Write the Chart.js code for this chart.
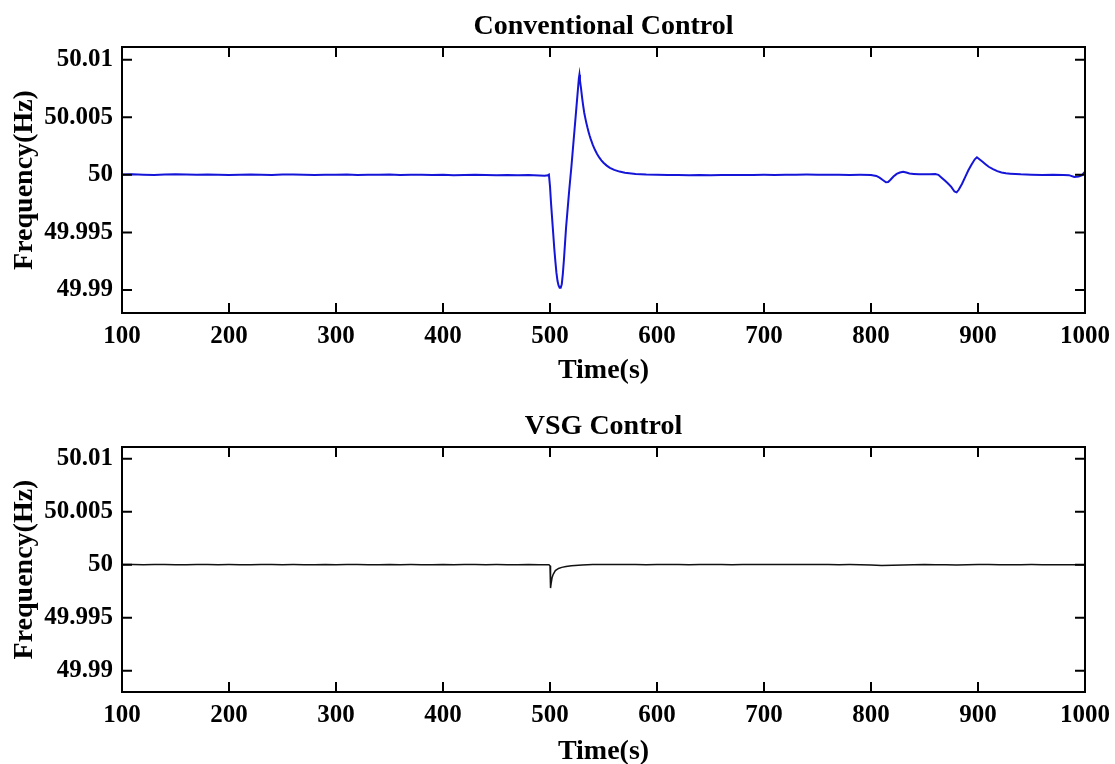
<!DOCTYPE html>
<html><head><meta charset="utf-8">
<script src="https://cdn.jsdelivr.net/npm/chart.js@4.4.1/dist/chart.umd.min.js"></script>
<style>
html,body{margin:0;padding:0;background:#fff;overflow:hidden;}
#wrap{position:relative;width:1115px;height:764px;background:#fff;}
canvas{position:absolute;left:0;}
</style></head><body>
<div id="wrap">
<canvas id="c1" width="1115" height="390" style="top:0"></canvas>
<canvas id="c2" width="1115" height="390" style="top:390px"></canvas>
</div>
<script>
// ---------- DATA ----------
const xTickValues = [100, 200, 300, 400, 500, 600, 700, 800, 900, 1000];
const yTickValues = [49.99, 49.995, 50, 50.005, 50.01];
const yTickLabels = ['49.99', '49.995', '50', '50.005', '50.01'];

// Conventional control (blue)
const convTime = [
  100,110,120,130,140,150,160,170,180,190,200,210,220,230,240,250,260,270,280,290,
  300,310,320,330,340,350,360,370,380,390,400,410,420,430,440,450,460,470,480,490,
  495,498,499,500,501,502,503,504,505,506,507,508,509,510,511,512,513,514,515,516,
  517,518,519,520,521,522,523,524,525,526,527,527.5,528,529,530,531,532,533,534,535,
  536,537,538,540,542,544,546,548,550,553,556,560,565,570,580,590,600,610,620,630,
  640,650,660,670,680,690,700,710,720,730,740,750,760,770,780,790,800,805,808,811,
  814,816,818,821,824,827,830,833,836,840,845,850,855,860,863,866,869,872,875,878,
  880,882,885,888,891,894,897,899,901,904,907,910,914,918,922,926,930,940,950,960,
  970,980,985,990,994,997,1000
];
const convFreq = [
  50.00002,50.00004,50.00001,49.99999,50.00003,50.00005,50.00002,50.00000,50.00003,50.00001,
  49.99998,50.00000,50.00002,50.00001,49.99999,50.00002,50.00003,50.00000,49.99998,50.00001,
  50.00000,50.00002,49.99999,50.00001,50.00000,50.00002,49.99999,50.00000,50.00001,49.99998,
  50.00000,49.99997,49.99999,50.00000,49.99998,49.99997,49.99999,49.99996,49.99998,49.99995,
  49.99993,49.99997,50.00002,49.99900,49.99750,49.99620,49.99490,49.99360,49.99250,49.99150,
  49.99080,49.99040,49.99020,49.99020,49.99050,49.99140,49.99260,49.99400,49.99540,49.99650,
  49.99760,49.99870,49.99970,50.00070,50.00180,50.00290,50.00400,50.00510,50.00620,50.00730,
  50.00840,50.00870,50.00820,50.00750,50.00670,50.00600,50.00539,50.00492,50.00449,50.00410,
  50.00375,50.00342,50.00312,50.00260,50.00217,50.00181,50.00151,50.00126,50.00105,50.00080,
  50.00061,50.00043,50.00028,50.00018,50.00007,50.00002,50.00000,49.99999,49.99998,49.99997,
  49.99998,49.99996,49.99998,49.99999,49.99998,49.99999,50.00000,49.99999,50.00000,50.00001,
  50.00002,50.00001,50.00000,50.00001,49.99999,50.00000,49.99999,49.99990,49.99975,49.99955,
  49.99935,49.99937,49.99955,49.99985,50.00008,50.00020,50.00027,50.00020,50.00012,50.00008,
  50.00004,50.00006,50.00004,50.00006,50.00000,49.99975,49.99950,49.99925,49.99895,49.99855,
  49.99848,49.99870,49.99920,49.99980,50.00040,50.00090,50.00135,50.00152,50.00138,50.00115,
  50.00092,50.00070,50.00050,50.00032,50.00020,50.00013,50.00010,50.00004,50.00001,49.99999,
  50.00000,49.99998,49.99997,49.99982,49.99985,49.99995,50.00028
];

// VSG control (black)
const vsgTime = [
  100,110,120,130,140,150,160,170,180,190,200,210,220,230,240,250,260,270,280,290,
  300,310,320,330,340,350,360,370,380,390,400,410,420,430,440,450,460,470,480,490,
  499,500,500.5,501,502,503,505,508,511,515,520,530,540,550,560,570,580,590,600,610,
  620,630,640,650,660,670,680,690,700,710,720,730,740,750,760,770,780,790,800,810,
  820,830,840,850,860,870,880,890,900,910,920,930,940,950,960,970,980,990,1000
];
const vsgFreq = [
  50.00001,50.00002,50.00000,50.00001,50.00002,50.00000,49.99999,50.00001,50.00002,50.00000,
  50.00001,50.00000,49.99999,50.00001,50.00002,50.00000,50.00001,50.00000,49.99999,50.00001,
  50.00000,50.00001,50.00002,50.00000,49.99999,50.00001,50.00000,50.00001,50.00000,49.99999,
  50.00001,50.00000,50.00001,50.00002,50.00000,50.00001,50.00000,49.99999,50.00001,50.00000,
  50.00000,49.99990,49.99780,49.99820,49.99880,49.99910,49.99945,49.99965,49.99975,49.99983,
  49.99990,49.99997,50.00001,50.00002,50.00001,50.00002,50.00001,50.00000,50.00001,50.00002,
  50.00001,50.00000,50.00001,50.00002,50.00001,50.00000,50.00001,50.00002,50.00001,50.00002,
  50.00001,50.00002,50.00003,50.00002,50.00001,50.00000,50.00001,50.00000,49.99998,49.99993,
  49.99996,49.99998,50.00000,50.00001,49.99999,50.00000,49.99997,50.00000,50.00002,50.00001,
  50.00000,49.99999,50.00000,50.00001,50.00000,49.99999,50.00000,49.99999,50.00000
];

// ---------- CHARTS ----------
const FONT = "'Liberation Serif', 'Times New Roman', Times, serif";

const framePlugin = {
  id: 'frame',
  afterDatasetsDraw(chart) {
    const {ctx, chartArea: a, scales: {x, y}} = chart;
    ctx.save();
    ctx.strokeStyle = '#000';
    ctx.lineWidth = 2;
    ctx.beginPath();
    x.ticks.forEach(t => {
      const p = x.getPixelForValue(t.value);
      if (p <= a.left + 1 || p >= a.right - 1) return;
      ctx.moveTo(p, a.bottom); ctx.lineTo(p, a.bottom - 10);
      ctx.moveTo(p, a.top); ctx.lineTo(p, a.top + 10);
    });
    y.ticks.forEach(t => {
      const p = y.getPixelForValue(t.value);
      ctx.moveTo(a.left, p); ctx.lineTo(a.left + 10, p);
      ctx.moveTo(a.right, p); ctx.lineTo(a.right - 10, p);
    });
    ctx.stroke();
    ctx.strokeRect(a.left, a.top, a.right - a.left, a.bottom - a.top);
    ctx.restore();
  }
};

function makeChart(id, title, xs, ys, color, lw, topH, titlePadTop, xH, xTitlePB) {
  new Chart(document.getElementById(id), {
    type: 'line',
    data: {
      datasets: [{
        data: xs.map((t, i) => ({x: t, y: ys[i]})),
        borderColor: color,
        borderWidth: lw,
        pointRadius: 0,
        tension: 0,
        fill: false
      }]
    },
    options: {
      responsive: false,
      animation: false,
      devicePixelRatio: 1,
      layout: {padding: {left: 0, right: 30, top: 0, bottom: 0}},
      plugins: {
        legend: {display: false},
        tooltip: {enabled: false},
        title: {display: false}
      },
      scales: {
        x: {
          type: 'linear', min: 100, max: 1000,
          grid: {display: false, drawTicks: false},
          border: {display: false},
          afterBuildTicks: s => { s.ticks = xTickValues.map(v => ({value: v})); },
          afterFit: s => { s.height = xH; },
          ticks: {
            color: '#000', padding: 5, autoSkip: false, maxRotation: 0,
            font: {family: FONT, size: 25, weight: 'bold', lineHeight: 1.52},
            callback: v => String(v)
          },
          title: {
            display: true, text: 'Time(s)', color: '#000',
            font: {family: FONT, size: 28, weight: 'bold', lineHeight: 1.2},
            padding: {top: 0, bottom: xTitlePB}
          }
        },
        xTop: {
          type: 'linear', position: 'top', min: 100, max: 1000,
          grid: {display: false, drawTicks: false},
          border: {display: false},
          ticks: {display: false},
          afterFit: s => { s.height = topH; },
          title: {
            display: true, text: title, color: '#000',
            font: {family: FONT, size: 28, weight: 'bold', lineHeight: 1.2},
            padding: {top: titlePadTop, bottom: 0}
          }
        },
        y: {
          type: 'linear', min: 49.988, max: 50.0111,
          grid: {display: false, drawTicks: false},
          border: {display: false},
          afterBuildTicks: s => { s.ticks = yTickValues.map(v => ({value: v})); },
          afterFit: s => { s.width = 122; },
          ticks: {
            color: '#000', padding: 9,
            font: {family: FONT, size: 25, weight: 'bold', lineHeight: 1.2},
            callback: (v, i) => yTickLabels[i]
          },
          title: {
            display: true, text: 'Frequency(Hz)', color: '#000',
            font: {family: FONT, size: 28, weight: 'bold', lineHeight: 1.2},
            padding: {top: 8, bottom: 0}
          }
        }
      }
    },
    plugins: [framePlugin]
  });
}

makeChart('c1', 'Conventional Control', convTime, convFreq, '#1515d8', 2, 47, 10, 77, 2);
makeChart('c2', 'VSG Control', vsgTime, vsgFreq, '#111111', 1.5, 57, 20, 88, 11);
</script>
</body></html>
